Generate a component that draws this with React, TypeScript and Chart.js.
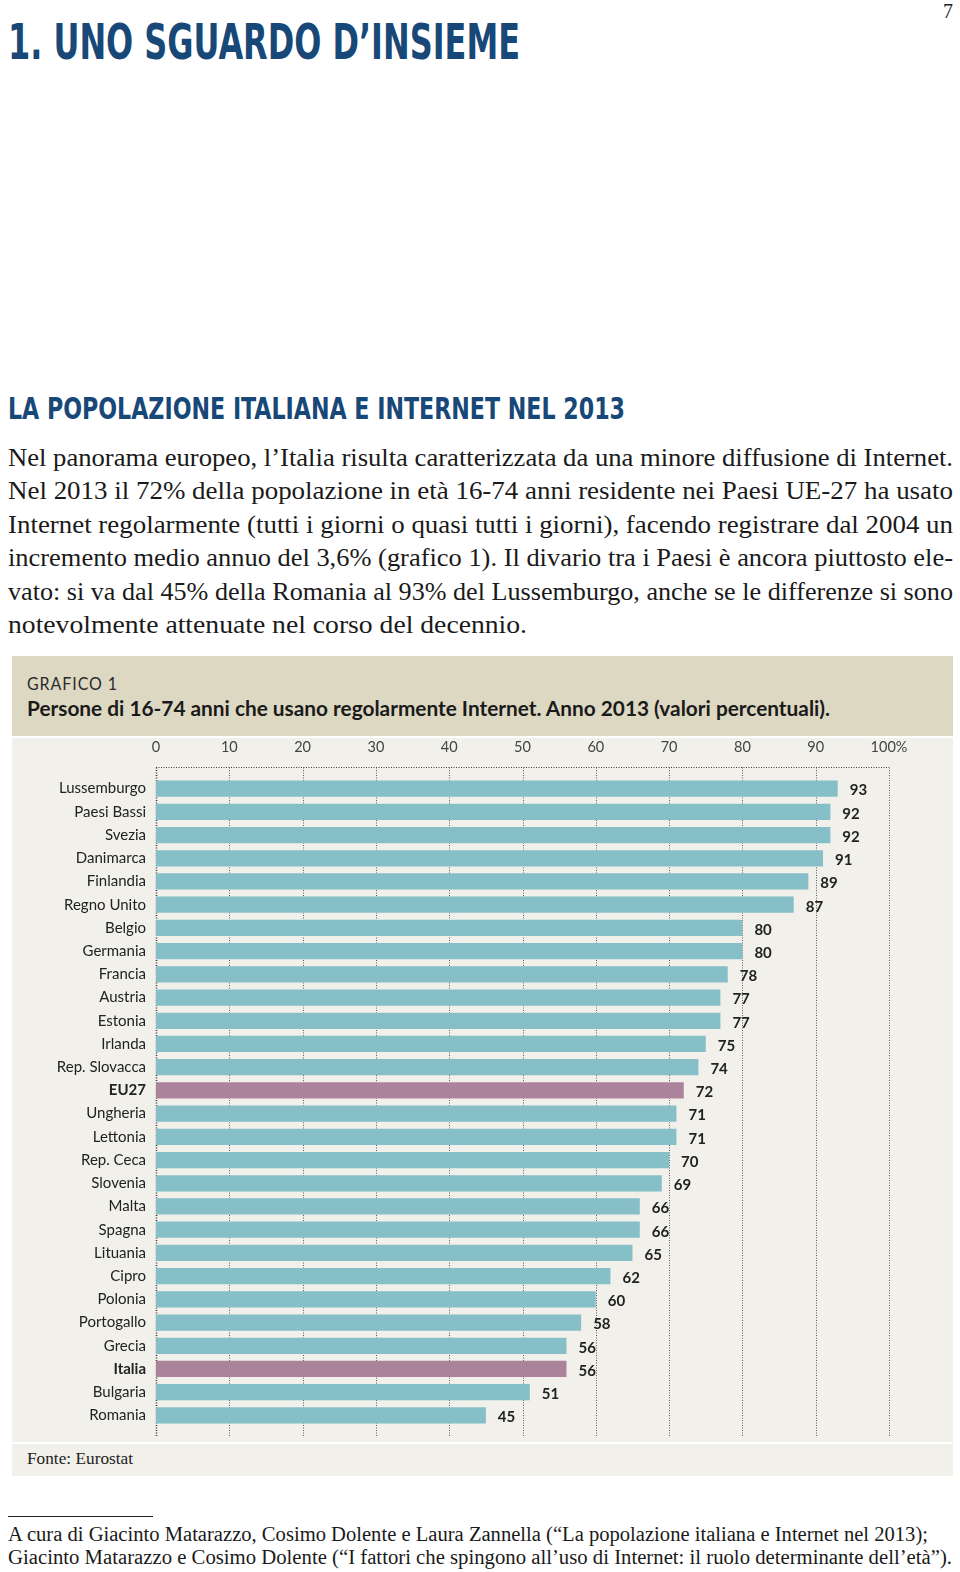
import React, { useEffect, useLayoutEffect, useRef } from 'react';
import { Chart, registerables } from 'chart.js';

Chart.register(...registerables);

const countries = [
  'Lussemburgo', 'Paesi Bassi', 'Svezia', 'Danimarca', 'Finlandia', 'Regno Unito',
  'Belgio', 'Germania', 'Francia', 'Austria', 'Estonia', 'Irlanda', 'Rep. Slovacca',
  'EU27', 'Ungheria', 'Lettonia', 'Rep. Ceca', 'Slovenia', 'Malta', 'Spagna',
  'Lituania', 'Cipro', 'Polonia', 'Portogallo', 'Grecia', 'Italia', 'Bulgaria', 'Romania',
];
const values = [
  93, 92, 92, 91, 89, 87,
  80, 80, 78, 77, 77, 75, 74,
  72, 71, 71, 70, 69, 66, 66,
  65, 62, 60, 58, 56, 56, 51, 45,
];
const highlighted = ['EU27', 'Italia'];
const xTicks = [0, 10, 20, 30, 40, 50, 60, 70, 80, 90, 100];

const bodyLines = [
  'Nel panorama europeo, l’Italia risulta caratterizzata da una minore diffusione di Internet.',
  'Nel 2013 il 72% della popolazione in età 16-74 anni residente nei Paesi UE-27 ha usato',
  'Internet regolarmente (tutti i giorni o quasi tutti i giorni), facendo registrare dal 2004 un',
  'incremento medio annuo del 3,6% (grafico 1). Il divario tra i Paesi è ancora piuttosto ele-',
  'vato: si va dal 45% della Romania al 93% del Lussemburgo, anche se le differenze si sono',
  'notevolmente attenuate nel corso del decennio.',
];
const footLines = [
  'A cura di Giacinto Matarazzo, Cosimo Dolente e Laura Zannella (“La popolazione italiana e Internet nel 2013);',
  'Giacinto Matarazzo e Cosimo Dolente (“I fattori che spingono all’uso di Internet: il ruolo determinante dell’età”).',
];

const TEAL = '#86bfc8';
const PURPLE = '#ab849c';
const BLUE = '#174878';
const PANEL = '#f1f0ea';
const HEADER = '#ddd8c2';
const SERIF = '"Liberation Serif", "DejaVu Serif", serif';
const NARROW = '"Liberation Sans Narrow", "DejaVu Sans Condensed", "Liberation Sans", sans-serif';
const SANS = 'Lato, "Noto Sans", sans-serif';

type FitProps = {
  text: string;
  left: number;
  top: number;
  width: number;
  style: React.CSSProperties;
};

function FitText({ text, left, top, width, style }: FitProps) {
  const ref = useRef<HTMLSpanElement | null>(null);
  useLayoutEffect(() => {
    const el = ref.current;
    if (!el) return;
    el.style.transform = 'none';
    const w = el.getBoundingClientRect().width;
    if (w > 0) el.style.transform = `scaleX(${width / w})`;
  }, [text, width]);
  return (
    <span
      ref={ref}
      style={{
        position: 'absolute',
        left,
        top,
        whiteSpace: 'nowrap',
        display: 'inline-block',
        transformOrigin: '0 0',
        lineHeight: 1,
        ...style,
      }}
    >
      {text}
    </span>
  );
}

const dottedFrame = {
  id: 'dottedFrame',
  beforeDatasetsDraw(chart: any) {
    const { ctx, chartArea, scales } = chart;
    const x = scales.x;
    const top = Math.round(chartArea.top - 10) + 0.5;
    const bottom = chartArea.bottom + 10;
    ctx.save();
    ctx.setLineDash([1, 1.5]);
    xTicks.forEach((v) => {
      const px = Math.round(x.getPixelForValue(v)) + 0.5;
      ctx.strokeStyle = v === 0 ? '#333' : '#5a5a5a';
      ctx.lineWidth = v === 0 ? 1.5 : 1;
      ctx.beginPath();
      ctx.moveTo(px, top);
      ctx.lineTo(px, bottom);
      ctx.stroke();
    });
    ctx.strokeStyle = '#3a3a3a';
    ctx.lineWidth = 1;
    ctx.beginPath();
    ctx.moveTo(x.getPixelForValue(0), top);
    ctx.lineTo(x.getPixelForValue(100), top);
    ctx.stroke();
    ctx.restore();
  },
};

const valueLabels = {
  id: 'valueLabels',
  afterDatasetsDraw(chart: any) {
    const { ctx } = chart;
    const meta = chart.getDatasetMeta(0);
    ctx.save();
    ctx.font = `bold 15px ${SANS}`;
    ctx.fillStyle = '#222';
    ctx.textAlign = 'left';
    ctx.textBaseline = 'middle';
    meta.data.forEach((bar: any, i: number) => {
      ctx.fillText(String(values[i]), bar.x + 12, bar.y + 2);
    });
    ctx.restore();
  },
};

function BarChart() {
  const canvasRef = useRef<HTMLCanvasElement | null>(null);
  useEffect(() => {
    const canvas = canvasRef.current;
    if (!canvas) return;
    const chart = new Chart(canvas, {
      type: 'bar',
      data: {
        labels: countries,
        datasets: [
          {
            data: values,
            backgroundColor: countries.map((c) => (highlighted.includes(c) ? PURPLE : TEAL)),
            borderWidth: 0,
            barPercentage: 0.7,
            categoryPercentage: 1,
          },
        ],
      },
      options: {
        indexAxis: 'y',
        animation: false,
        responsive: false,
        maintainAspectRatio: false,
        layout: { padding: { top: 0, right: 64, bottom: 15, left: 0 } },
        plugins: { legend: { display: false }, tooltip: { enabled: false } },
        scales: {
          x: {
            position: 'top',
            min: 0,
            max: 100,
            afterBuildTicks: (s: any) => {
              s.ticks = xTicks.map((v) => ({ value: v }));
            },
            ticks: {
              padding: 21,
              color: '#444',
              font: { family: SANS, size: 14.5 },
              maxRotation: 0,
              callback: (v: any) => (Number(v) === 100 ? '100%' : String(v)),
            },
            grid: { display: false, drawTicks: false },
            border: { display: false },
            afterFit: (s: any) => {
              s.height = 39;
            },
          },
          y: {
            ticks: {
              padding: 10,
              color: '#222',
              autoSkip: false,
              font: (ctx: any) => ({
                family: SANS,
                size: 15,
                weight: highlighted.includes(countries[ctx.index]) ? 'bold' : 'normal',
              }),
            },
            grid: { display: false, drawTicks: false },
            border: { display: false },
            afterFit: (s: any) => {
              s.width = 144;
              s.paddingTop = 0;
              s.paddingBottom = 0;
            },
          },
        },
      },
      plugins: [dottedFrame, valueLabels],
    } as any);
    return () => chart.destroy();
  }, []);
  return (
    <canvas
      ref={canvasRef}
      width={941}
      height={704}
      style={{ position: 'absolute', left: 12, top: 738, width: 941, height: 704 }}
    />
  );
}

export default function App() {
  return (
    <div
      style={{
        position: 'absolute',
        left: 0,
        top: 0,
        width: 960,
        height: 1572,
        background: '#fff',
        overflow: 'hidden',
      }}
    >
      <FitText text="7" left={943} top={0} width={10} style={{ fontFamily: SERIF, fontSize: 22, color: '#222' }} />
      <FitText
        text="1. UNO SGUARDO D’INSIEME"
        left={8}
        top={18}
        width={512}
        style={{ fontFamily: NARROW, fontWeight: 'bold', fontSize: 49, color: BLUE }}
      />
      <FitText
        text="LA POPOLAZIONE ITALIANA E INTERNET NEL 2013"
        left={8}
        top={394}
        width={617}
        style={{ fontFamily: NARROW, fontWeight: 'bold', fontSize: 30, color: BLUE }}
      />
      {bodyLines.map((t, i) => (
        <FitText
          key={i}
          text={t}
          left={8}
          top={445 + i * 33.4}
          width={i === bodyLines.length - 1 ? 519 : 945}
          style={{ fontFamily: SERIF, fontSize: 25, color: '#1a1a1a' }}
        />
      ))}

      <div style={{ position: 'absolute', left: 12, top: 656, width: 941, height: 80, background: HEADER }} />
      <FitText
        text="GRAFICO 1"
        left={27}
        top={675}
        width={91}
        style={{ fontFamily: SANS, fontSize: 17, color: '#2a2a2a', letterSpacing: 1 }}
      />
      <FitText
        text="Persone di 16-74 anni che usano regolarmente Internet. Anno 2013 (valori percentuali)."
        left={27}
        top={698}
        width={803}
        style={{ fontFamily: SANS, fontWeight: 'bold', fontSize: 20, color: '#1a1a1a' }}
      />
      <div style={{ position: 'absolute', left: 12, top: 738, width: 941, height: 704, background: PANEL }} />
      <BarChart />
      <div style={{ position: 'absolute', left: 12, top: 1444, width: 941, height: 32, background: PANEL }} />
      <FitText
        text="Fonte: Eurostat"
        left={27}
        top={1450}
        width={106}
        style={{ fontFamily: SERIF, fontSize: 17, color: '#222' }}
      />

      <div style={{ position: 'absolute', left: 8, top: 1516, width: 145, height: 1, background: '#222' }} />
      {footLines.map((t, i) => (
        <FitText
          key={i}
          text={t}
          left={8}
          top={1524 + i * 23}
          width={i === 0 ? 920 : 944}
          style={{ fontFamily: SERIF, fontSize: 20, color: '#1a1a1a' }}
        />
      ))}
    </div>
  );
}
